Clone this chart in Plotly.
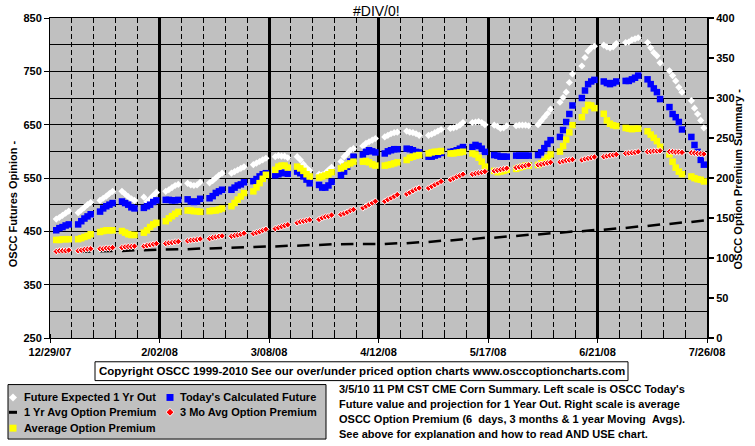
import plotly.graph_objects as go
import pandas as pd

# ---------------- data ----------------
dates = pd.bdate_range('2007-12-31', periods=150)

future_1yr = [
    473, 476, 480, 484, 488,
    485, 490, 495, 500, 504,
    508, 512, 516, 521, 525,
    525, 520, 515, 511, 508,
    514, 506, 511, 517, 523,
    525, 528, 532, 536, 538,
    540, 537, 536, 537, 542,
    541, 545, 550, 555, 559,
    559, 562, 565, 568, 571,
    575, 578, 581, 584, 587,
    590, 592, 591, 591, 588,
    590, 584, 576, 569, 564,
    557, 556, 559, 565, 570,
    581, 590, 596, 602, 605,
    610, 615, 618, 621, 624,
    627, 630, 633, 635, 636,
    638, 636, 635, 633, 630,
    630, 632, 635, 638, 641,
    643, 644, 646, 649, 654,
    654, 655, 656, 654, 650,
    649, 647, 643, 644, 648,
    648, 649, 649, 649, 648,
    650, 657, 664, 671, 679,
    692, 701, 711, 729, 745,
    760, 776, 788, 794, 797,
    799, 796, 794, 796, 802,
    804, 805, 809, 811, 813,
    804, 794, 785, 779, 766,
    751, 742, 732, 720, 711,
    695, 681, 670, 658, 644,
]

todays_future = [
    452, 456, 458, 461, 463,
    463, 469, 474, 478, 482,
    487, 493, 497, 500, 503,
    506, 503, 500, 495, 493,
    494, 497, 500, 505, 508,
    509, 509, 508, 508, 509,
    510, 506, 505, 506, 511,
    512, 516, 522, 525, 528,
    528, 532, 536, 538, 542,
    544, 548, 553, 557, 559,
    555, 557, 559, 560, 558,
    562, 559, 553, 547, 540,
    537, 532, 532, 536, 543,
    555, 562, 571, 581, 590,
    594, 599, 602, 600, 598,
    596, 600, 602, 604, 604,
    605, 604, 602, 599, 598,
    590, 590, 592, 594, 597,
    599, 600, 602, 605, 608,
    608, 612, 610, 605, 599,
    593, 592, 590, 590, 590,
    592, 592, 592, 592, 592,
    593, 598, 606, 614, 621,
    627, 640, 655, 670, 686,
    700, 714, 726, 731, 734,
    731, 728, 726, 728, 731,
    732, 732, 735, 738, 742,
    735, 726, 718, 711, 698,
    683, 670, 664, 655, 641,
    627, 612, 599, 584, 575,
]

avg_premium = [
    122.6, 122.6, 123.5, 123.5, 123.5,
    123.5, 124.7, 126.3, 127.6, 129.7,
    132.5, 133.7, 134.6, 134.6, 134.6,
    133.7, 131.7, 129.7, 128.8, 128.8,
    131.7, 134.6, 138.7, 142.0, 144.0,
    146.0, 149.5, 152.3, 155.2, 157.7,
    159.4, 159.4, 158.5, 158.5, 157.7,
    158.5, 159.4, 159.4, 160.6, 161.9,
    164.7, 168.8, 173.0, 177.0, 181.2,
    183.3, 188.3, 193.6, 199.0, 204.0,
    210.2, 214.2, 215.5, 215.5, 213.0,
    214.2, 212.0, 208.9, 204.7, 201.9,
    200.6, 201.9, 203.1, 204.7, 207.2,
    212.0, 214.2, 216.3, 218.3, 220.4,
    220.4, 221.3, 219.6, 217.1, 215.5,
    215.5, 216.3, 217.1, 218.3, 219.6,
    222.5, 225.4, 226.6, 227.9, 228.7,
    230.7, 232.0, 232.8, 232.8, 233.7,
    230.7, 230.7, 231.6, 232.0, 232.8,
    230.7, 229.5, 225.4, 220.4, 214.2,
    208.9, 207.2, 208.0, 208.9, 210.2,
    211.4, 213.0, 214.2, 215.5, 215.5,
    216.3, 218.3, 221.3, 225.4, 229.5,
    233.0, 240.0, 248.0, 257.0, 266.0,
    276.0, 284.4, 291.4, 290.6, 287.3,
    280.3, 272.0, 267.9, 265.9, 265.0,
    262.5, 261.7, 261.0, 261.7, 261.7,
    258.4, 254.3, 250.2, 246.1, 239.0,
    229.5, 220.4, 213.0, 208.0, 204.7,
    201.9, 199.8, 198.5, 197.8, 195.7,
]

mo3_premium = [
    108.2, 109.0, 109.0, 109.0, 109.8,
    109.0, 109.8, 110.6, 111.1, 111.5,
    111.5, 111.5, 112.3, 112.3, 113.0,
    113.0, 113.9, 114.3, 114.3, 114.8,
    114.8, 115.6, 116.4, 117.3, 118.0,
    118.0, 118.9, 119.3, 120.1, 120.5,
    121.4, 122.2, 122.6, 123.0, 123.8,
    124.2, 125.5, 126.3, 127.2, 127.6,
    127.2, 128.0, 128.8, 129.7, 130.9,
    130.5, 131.7, 132.9, 134.6, 135.9,
    136.7, 137.9, 139.2, 140.4, 141.6,
    144.0, 145.3, 146.1, 147.0, 147.7,
    148.2, 150.2, 151.5, 152.3, 153.6,
    154.4, 155.7, 157.3, 159.4, 160.6,
    162.6, 164.7, 166.8, 168.8, 170.9,
    170.9, 173.0, 175.0, 177.0, 179.2,
    180.0, 182.0, 184.1, 186.2, 187.4,
    187.4, 189.5, 191.6, 193.6, 195.7,
    197.8, 199.8, 201.5, 203.1, 204.7,
    204.7, 205.6, 206.4, 207.2, 208.0,
    208.9, 209.7, 210.5, 211.4, 212.2,
    213.0, 213.9, 214.7, 215.5, 216.4,
    216.4, 217.1, 218.0, 218.8, 219.6,
    220.0, 221.0, 222.0, 222.5, 223.0,
    222.5, 223.8, 224.6, 225.4, 226.3,
    226.6, 227.5, 228.3, 228.7, 229.5,
    230.7, 231.2, 231.6, 232.0, 232.8,
    232.8, 233.2, 233.7, 233.7, 234.1,
    233.0, 232.8, 232.4, 232.4, 232.0,
    231.6, 231.2, 230.7, 230.3, 229.9,
]

yr1_premium = [
    107.3, 107.4, 107.5, 107.6, 107.7,
    107.8, 107.9, 108.0, 108.1, 108.2,
    108.3, 108.4, 108.5, 108.6, 108.7,
    108.8, 109.0, 109.2, 109.4, 109.6,
    109.6, 109.8, 110.0, 110.2, 110.4,
    110.5, 110.6, 110.7, 110.8, 110.9,
    111.0, 111.2, 111.4, 111.6, 111.8,
    111.8, 112.0, 112.2, 112.4, 112.6,
    112.7, 112.9, 113.1, 113.3, 113.5,
    113.6, 113.8, 114.0, 114.2, 114.4,
    114.5, 114.7, 114.9, 115.1, 115.3,
    115.4, 115.6, 115.8, 116.0, 116.2,
    116.3, 116.5, 116.7, 116.9, 117.1,
    117.2, 117.2, 117.3, 117.3, 117.4,
    117.4, 117.4, 117.5, 117.5, 117.6,
    117.6, 117.8, 118.0, 118.2, 118.4,
    118.5, 118.8, 119.1, 119.4, 119.7,
    120.0, 120.4, 120.8, 121.2, 121.6,
    121.8, 122.2, 122.6, 123.0, 123.4,
    123.6, 124.0, 124.4, 124.8, 125.2,
    125.4, 125.8, 126.2, 126.6, 127.0,
    127.4, 127.8, 128.2, 128.6, 129.0,
    129.4, 129.8, 130.2, 130.6, 131.0,
    131.4, 131.8, 132.2, 132.6, 133.0,
    133.3, 133.7, 134.1, 134.5, 134.9,
    135.3, 135.7, 136.1, 136.5, 136.9,
    137.4, 137.9, 138.4, 138.9, 139.4,
    139.9, 140.4, 140.9, 141.4, 141.9,
    142.5, 143.0, 143.5, 144.0, 144.5,
    145.0, 145.5, 146.0, 146.5, 147.0,
]

x_tickvals = ['2007-12-29', '2008-02-02', '2008-03-08', '2008-04-12',
              '2008-05-17', '2008-06-21', '2008-07-26']
x_ticktext = ['12/29/07', '2/02/08', '3/08/08', '4/12/08',
              '5/17/08', '6/21/08', '7/26/08']
left_tickvals = [250, 350, 450, 550, 650, 750, 850]
right_tickvals = [0, 50, 100, 150, 200, 250, 300, 350, 400]

series_names = ['Future Expected 1 Yr Out', "Today's Calculated Future",
                '1 Yr Avg Option Premium', '3 Mo Avg Option Premium',
                'Average Option Premium']

title_text = '#DIV/0!'
left_title = 'OSCC Futures Opinion -'
right_title = 'OSCC Option Premium Summary -'
copyright_text = ('Copyright OSCC 1999-2010 See our over/under priced option '
                  'charts www.osccoptioncharts.com')
note_lines = [
    "3/5/10 11 PM CST CME Corn Summary. Left scale is OSCC Today's",
    'Future value and projection for 1 Year Out. Right scale is average',
    'OSCC Option Premium (6&nbsp;&nbsp;days, 3 months &amp; 1 year Moving&nbsp;&nbsp;Avgs).',
    'See above for explanation and how to read AND USE chart.',
]

# ---------------- layout helpers ----------------
W, H = 755, 446
L, R, T, B = 50, 48, 15, 108
PW, PH = W - L - R, H - T - B


def px(x):
    return (x - L) / PW


def py(y):
    return (H - B - y) / PH


FONT = 'Arial, Liberation Sans, sans-serif'
bold = dict(family=FONT, size=11, color='black', weight='bold')

# black 1-yr line drawn as weekly dashes (breaks over weekends)
bx, by = [], []
for i, (d, v) in enumerate(zip(dates, yr1_premium)):
    bx.append(d)
    by.append(v)
    if i % 5 == 4:
        bx.append(None)
        by.append(None)

fig = go.Figure()
fig.add_trace(go.Scatter(x=dates, y=future_1yr, mode='markers', name=series_names[0],
                         marker=dict(symbol='diamond', size=5.5, color='white',
                                     line=dict(width=0)), yaxis='y'))
fig.add_trace(go.Scatter(x=dates, y=todays_future, mode='markers', name=series_names[1],
                         marker=dict(symbol='square', size=6.5, color='#0000FF',
                                     line=dict(width=0)), yaxis='y'))
fig.add_trace(go.Scatter(x=bx, y=by, mode='lines', name=series_names[2],
                         line=dict(color='black', width=2.5), yaxis='y2',
                         connectgaps=False))
fig.add_trace(go.Scatter(x=dates, y=avg_premium, mode='markers', name=series_names[4],
                         marker=dict(symbol='square', size=6.5, color='#FFFF00',
                                     line=dict(width=0)), yaxis='y2'))
fig.add_trace(go.Scatter(x=dates, y=mo3_premium, mode='markers', name=series_names[3],
                         marker=dict(symbol='diamond', size=5, color='#FF0000',
                                     line=dict(width=1, color='white')), yaxis='y2'))

shapes = []
annotations = []

# title
annotations.append(dict(text=title_text, x=px(376), y=py(8), xref='paper', yref='paper',
                        showarrow=False, xanchor='center', yanchor='middle',
                        font=dict(family=FONT, size=14, color='black')))
# axis titles
annotations.append(dict(text=left_title, x=px(13), y=py(203), xref='paper', yref='paper',
                        showarrow=False, textangle=-90, xanchor='center', yanchor='middle',
                        font=bold))
annotations.append(dict(text=right_title, x=px(738), y=py(178), xref='paper', yref='paper',
                        showarrow=False, textangle=-90, xanchor='center', yanchor='middle',
                        font=bold))
# copyright box
shapes.append(dict(type='rect', xref='paper', yref='paper', x0=px(95), x1=px(628),
                   y0=py(362), y1=py(381), line=dict(color='black', width=1),
                   fillcolor='white', layer='below'))
annotations.append(dict(text=copyright_text, x=px(361.5), y=py(371.5), xref='paper',
                        yref='paper', showarrow=False, xanchor='center', yanchor='middle',
                        font=dict(family=FONT, size=11.5, color='black', weight='bold')))
# legend box
shapes.append(dict(type='rect', xref='paper', yref='paper', x0=px(8), x1=px(326),
                   y0=py(385), y1=py(440), line=dict(color='black', width=1),
                   fillcolor='#C0C0C0', layer='below'))
rows = [398, 413, 429]
leg_items = [
    (series_names[0], 13, 22, rows[0], 'diamond', 'white', None),
    (series_names[1], 170, 178, rows[0], 'square', '#0000FF', None),
    (series_names[2], 13, 22, rows[1], 'line', 'black', None),
    (series_names[3], 170, 178, rows[1], 'diamond', '#FF0000', 'white'),
    (series_names[4], 13, 22, rows[2], 'square', '#FFFF00', None),
]
for name, sx, tx, ry, kind, col, edge in leg_items:
    annotations.append(dict(text=name, x=px(tx), y=py(ry), xref='paper', yref='paper',
                            showarrow=False, xanchor='left', yanchor='middle', font=bold))
    if kind == 'square':
        shapes.append(dict(type='rect', xref='paper', yref='paper',
                           x0=px(sx - 3.5), x1=px(sx + 3.5), y0=py(ry + 3.5), y1=py(ry - 3.5),
                           fillcolor=col, line=dict(width=0)))
    elif kind == 'diamond':
        r = 4
        path = (f'M {px(sx)},{py(ry - r)} L {px(sx + r)},{py(ry)} '
                f'L {px(sx)},{py(ry + r)} L {px(sx - r)},{py(ry)} Z')
        shapes.append(dict(type='path', xref='paper', yref='paper', path=path,
                           fillcolor=col,
                           line=dict(width=1 if edge else 0, color=edge or col)))
    else:
        shapes.append(dict(type='line', xref='paper', yref='paper',
                           x0=px(sx - 4), x1=px(sx + 4), y0=py(ry), y1=py(ry),
                           line=dict(color=col, width=3)))
# note text block
note_y = [389, 405, 420, 435]
for line, yy in zip(note_lines, note_y):
    annotations.append(dict(text=line, x=px(337), y=py(yy), xref='paper', yref='paper',
                            showarrow=False, xanchor='left', yanchor='middle', font=bold))

fig.update_layout(
    width=W, height=H,
    margin=dict(l=L, r=R, t=T, b=B, pad=0),
    paper_bgcolor='white', plot_bgcolor='#C0C0C0',
    showlegend=False,
    xaxis=dict(type='date', range=['2007-12-29', '2008-07-26'],
               tickmode='array', tickvals=x_tickvals, ticktext=x_ticktext,
               showgrid=True, gridcolor='black', gridwidth=3,
               ticks='outside', ticklen=4, tickcolor='black', tickwidth=1,
               showline=True, linecolor='black', linewidth=1, mirror=True,
               tickfont=bold, zeroline=False,
               minor=dict(tickmode='linear', tick0='2007-12-29', dtick=7 * 86400000,
                          showgrid=True, gridcolor='black', gridwidth=1,
                          griddash='5px,3px', ticks='inside', ticklen=4,
                          tickcolor='black')),
    yaxis=dict(range=[250, 850], tickmode='array', tickvals=left_tickvals,
               showgrid=True, gridcolor='black', gridwidth=1,
               ticks='outside', ticklen=5, tickcolor='black', tickwidth=1,
               showline=True, linecolor='black', linewidth=1,
               tickfont=bold, zeroline=False,
               minor=dict(tickmode='linear', tick0=250, dtick=50, showgrid=True,
                          gridcolor='black', gridwidth=1, ticks='')),
    yaxis2=dict(overlaying='y', side='right', range=[0, 400], tickmode='array',
                tickvals=right_tickvals, showgrid=False,
                ticks='outside', ticklen=5, tickcolor='black', tickwidth=2,
                showline=True, linecolor='black', linewidth=2,
                tickfont=bold, zeroline=False),
    shapes=shapes,
    annotations=annotations,
)

fig.write_html('out.html',
               config={'displayModeBar': False, 'staticPlot': True},
               post_script="document.body.style.margin='0';"
                           "document.body.style.padding='0';"
                           "document.body.style.overflow='hidden';")
